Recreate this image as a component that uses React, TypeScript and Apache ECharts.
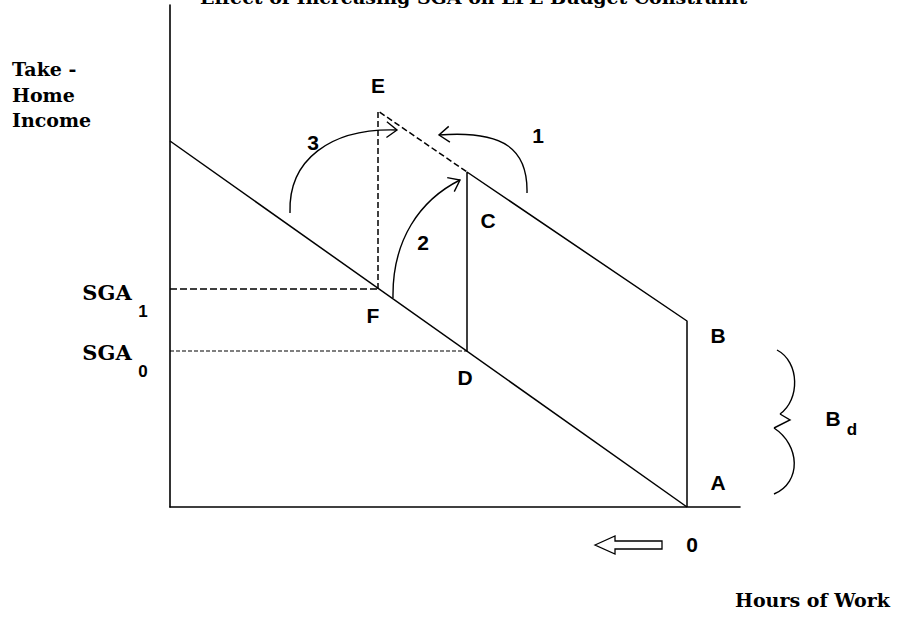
import React, { useEffect, useRef } from "react";
import * as echarts from "echarts";

// ---------- data (hours of work on x, reading leftward; take-home income on y) ----------
const titleText = "Effect of Increasing SGA on LPE Budget Constraint";
const yTitleLines = ["Take -", "Home", "Income"];
const xTitle = "Hours of Work";

// [hours, income]
const lowerBudget = [[51.7, 36.6], [0, 0]];
const upperSolid = [[22, 15.6], [22, 33.5], [0, 18.6], [0, 0]]; // D -> C -> B -> A
const upperDashed = [[30.9, 21.8], [30.9, 39.6], [22, 33.5]]; // F -> E -> C
const sga1Line = [[51.7, 21.8], [30.9, 21.8]];
const sga0Line = [[51.7, 15.6], [22, 15.6]];

// curved arrows: start, control 1, control 2, tip
const arcs = [
  [16.0, 31.4, 15.9, 35.7, 18.2, 37.7, 24.8, 37.2], // 1
  [29.4, 20.9, 29.5, 26.7, 26.7, 30.7, 22.7, 32.7], // 2
  [39.7, 29.4, 39.9, 34.7, 35.7, 37.9, 29.0, 37.7], // 3
];

// brace beside A-B
const brace = [-9.0, 15.7, -11.3, 14.5, -11.3, 10.7, -9.3, 9.3, -10.3, 8.7, -8.7, 7.9, -11.3, 6.2, -11.5, 2.5, -8.7, 1.3];

// hollow arrow pointing left next to 0
const hollowArrow = [9.2, -3.8, 7.2, -2.9, 7.2, -3.4, 2.5, -3.4, 2.5, -4.2, 7.2, -4.2, 7.2, -4.7];

const pointLabels = [
  { text: "E", at: [30.9, 42.2] },
  { text: "C", at: [19.9, 28.7] },
  { text: "F", at: [31.4, 19.2] },
  { text: "D", at: [22.2, 13.0] },
  { text: "B", at: [-3.1, 17.2] },
  { text: "A", at: [-3.1, 2.5] },
  { text: "1", at: [14.9, 37.2] },
  { text: "2", at: [26.4, 26.5] },
  { text: "3", at: [37.4, 36.5] },
  { text: "0", at: [-0.5, -3.7] },
  { text: "B", at: [-14.6, 8.9] },
];
const subLabels = [
  { text: "d", at: [-16.5, 7.8] },
  { text: "1", at: [54.4, 19.6] },
  { text: "0", at: [54.4, 13.6] },
];
const sgaLabels = [
  { text: "SGA", at: [58.0, 21.5] },
  { text: "SGA", at: [58.0, 15.5] },
];
const yTitleAt = [[67.5, 43.8], [67.5, 41.2], [67.5, 38.7]];
const xTitleAt = [-4.8, -9.3];

const SANS = "'Liberation Sans', Arial, sans-serif";
const SERIF = "'DejaVu Serif', serif";
const INK = "#000";

function lineSeries(data: number[][], type: any, width = 1.5) {
  return {
    type: "line",
    data,
    symbol: "none",
    silent: true,
    clip: false,
    lineStyle: { color: INK, width, type },
  };
}

export default function App() {
  const ref = useRef<HTMLDivElement>(null);
  useEffect(() => {
    if (!ref.current) return;
    const chart = echarts.init(ref.current, null, { renderer: "svg" });

    const textItems: any[] = [];
    const add = (at: number[], text: string, family: string, size: number, align = "center") =>
      textItems.push({
        value: at,
        label: {
          show: true,
          position: "inside",
          align,
          verticalAlign: "middle",
          formatter: text,
          fontFamily: family,
          fontWeight: "bold",
          fontSize: size,
          color: INK,
          textBorderWidth: 0,
          opacity: 1,
        },
      });
    pointLabels.forEach((l) => add(l.at, l.text, SANS, 21));
    subLabels.forEach((l) => add(l.at, l.text, SANS, 17));
    sgaLabels.forEach((l) => add(l.at, l.text, SERIF, 21));
    yTitleLines.forEach((t, i) => add(yTitleAt[i], t, SERIF, 19, "left"));
    add(xTitleAt, xTitle, SERIF, 19, "left");

    const stroke = { stroke: INK, fill: null, lineWidth: 1.4 };

    const option: any = {
      animation: false,
      backgroundColor: "#fff",
      title: {
        text: titleText,
        left: 200,
        top: -13,
        padding: 0,
        textStyle: { fontFamily: SERIF, fontWeight: "bold", fontSize: 19, color: INK },
      },
      grid: { left: 170, right: 168, top: 5, bottom: 118, outerBoundsMode: "none" },
      xAxis: {
        type: "value",
        min: -5.3,
        max: 51.7,
        inverse: true,
        axisLine: { show: true, onZero: false, lineStyle: { color: INK, width: 1.6 } },
        axisTick: { show: false },
        axisLabel: { show: false },
        splitLine: { show: false },
      },
      yAxis: {
        type: "value",
        min: 0,
        max: 50.2,
        axisLine: { show: true, onZero: false, lineStyle: { color: INK, width: 1.6 } },
        axisTick: { show: false },
        axisLabel: { show: false },
        splitLine: { show: false },
      },
      series: [
        lineSeries(lowerBudget, "solid"),
        lineSeries(upperSolid, "solid"),
        lineSeries(upperDashed, [6, 3]),
        lineSeries(sga1Line, [7, 3]),
        lineSeries(sga0Line, [4, 2], 1.2),
        {
          type: "custom",
          silent: true,
          clip: false,
          data: arcs,
          encode: { x: [0, 2, 4, 6], y: [1, 3, 5, 7] },
          renderItem: (_p: any, api: any) => {
            const pt = (k: number) => api.coord([api.value(2 * k), api.value(2 * k + 1)]);
            const p0 = pt(0), p1 = pt(1), p2 = pt(2), p3 = pt(3);
            const dx = p3[0] - p2[0], dy = p3[1] - p2[1];
            const len = Math.hypot(dx, dy) || 1;
            const ux = -dx / len, uy = -dy / len;
            const L = 13, a = 0.65;
            const w = (s: number) => [
              p3[0] + L * (ux * Math.cos(s * a) - uy * Math.sin(s * a)),
              p3[1] + L * (ux * Math.sin(s * a) + uy * Math.cos(s * a)),
            ];
            return {
              type: "group",
              children: [
                {
                  type: "bezierCurve",
                  shape: { x1: p0[0], y1: p0[1], cpx1: p1[0], cpy1: p1[1], cpx2: p2[0], cpy2: p2[1], x2: p3[0], y2: p3[1] },
                  style: stroke,
                },
                { type: "polyline", shape: { points: [w(1), p3, w(-1)] }, style: stroke },
              ],
            };
          },
        },
        {
          type: "custom",
          silent: true,
          clip: false,
          data: [brace],
          encode: { x: [0], y: [1] },
          renderItem: (_p: any, api: any) => {
            const pt = (k: number) => api.coord([api.value(2 * k), api.value(2 * k + 1)]);
            const q = Array.from({ length: 9 }, (_, k) => pt(k));
            const bz = (a: number[], b: number[], c: number[], d: number[]) => ({
              type: "bezierCurve",
              shape: { x1: a[0], y1: a[1], cpx1: b[0], cpy1: b[1], cpx2: c[0], cpy2: c[1], x2: d[0], y2: d[1] },
              style: stroke,
            });
            return {
              type: "group",
              children: [
                bz(q[0], q[1], q[2], q[3]),
                { type: "polyline", shape: { points: [q[3], q[4], q[5]] }, style: stroke },
                bz(q[5], q[6], q[7], q[8]),
              ],
            };
          },
        },
        {
          type: "custom",
          silent: true,
          clip: false,
          data: [hollowArrow],
          encode: { x: [0], y: [1] },
          renderItem: (_p: any, api: any) => {
            const pts = Array.from({ length: 7 }, (_, k) => api.coord([api.value(2 * k), api.value(2 * k + 1)]));
            return { type: "polygon", shape: { points: pts }, style: { stroke: INK, fill: "#fff", lineWidth: 1.3 } };
          },
        },
        {
          type: "scatter",
          silent: true,
          clip: false,
          symbolSize: 0,
          itemStyle: { color: INK, opacity: 1 },
          data: textItems,
        },
      ],
    };
    chart.setOption(option);
    return () => chart.dispose();
  }, []);

  return (
    <div
      ref={ref}
      style={{ position: "fixed", left: 0, top: 0, width: 908, height: 625, background: "#fff" }}
    />
  );
}
